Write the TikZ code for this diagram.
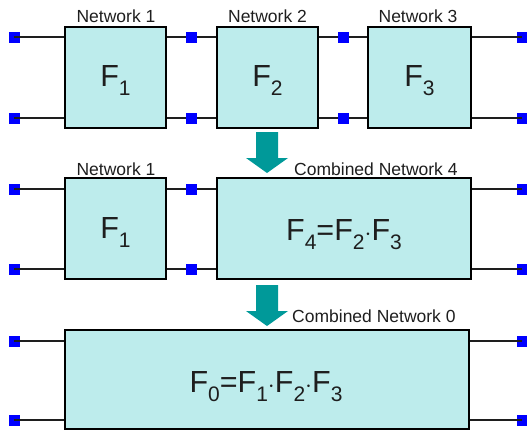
\documentclass[tikz,border=0pt]{standalone}
\usepackage{fontspec}
\setmainfont{Liberation Sans}
\definecolor{boxfill}{RGB}{189,236,236}
\definecolor{portblue}{RGB}{0,0,255}
\definecolor{arrowteal}{RGB}{0,153,153}
\definecolor{ink}{RGB}{30,30,30}
% subscript for the transfer-function labels
\newcommand{\tfsub}[1]{\raisebox{-9.5pt}{\fontsize{21}{21}\selectfont #1}}
\tikzset{
  netbox/.style={draw=black, fill=boxfill, line width=2.2pt, inner sep=0pt},
  port/.style={fill=portblue, minimum size=11pt, inner sep=0pt},
  wire/.style={line width=1.8pt, draw=ink},
  netlabel/.style={anchor=base, text=ink, font=\fontsize{17.5}{18}\selectfont, inner sep=0pt},
  tf/.style={anchor=base, text=ink, font=\fontsize{30.5}{30}\selectfont, inner sep=0pt},
  flowarrow/.style={fill=arrowteal}
}
\begin{document}
\begin{tikzpicture}[x=1pt,y=-1pt]
\useasboundingbox (0,0) rectangle (527,431);

% ---------- row 1: three separate networks ----------
\node[netbox, minimum width=101pt, minimum height=101pt] (n1) at (115.5,77.5) {};
\node[netbox, minimum width=101pt, minimum height=101pt] (n2) at (267.5,77.5) {};
\node[netbox, minimum width=103pt, minimum height=101pt] (n3) at (419.5,77.5) {};
\node[netlabel] (l1) at (116,22) {Network 1};
\node[netlabel] (l2) at (267.5,22) {Network 2};
\node[netlabel] (l3) at (418,22) {Network 3};
\node[tf] (f1) at (115.5,86) {F\tfsub{1}};
\node[tf] (f2) at (267.5,86) {F\tfsub{2}};
\node[tf] (f3) at (419.5,86) {F\tfsub{3}};

\foreach \r/\y in {a/37, b/118} {
  \node[port] (p1\r) at (14,\y) {};
  \node[port] (q1\r) at (191,\y) {};
  \node[port] (s1\r) at (343,\y) {};
  \node[port] (t1\r) at (522,\y) {};
  \draw[wire] (p1\r.center) -- (n1.west |- p1\r);
  \draw[wire] (n1.east |- q1\r) -- (n2.west |- q1\r);
  \draw[wire] (n2.east |- s1\r) -- (n3.west |- s1\r);
  \draw[wire] (n3.east |- t1\r) -- (t1\r.center);
}
% redraw the middle ports above the wires
\foreach \r/\y in {a/37, b/118} {
  \node[port] at (191,\y) {};
  \node[port] at (343,\y) {};
}

% ---------- arrow 1 ----------
\coordinate (a1) at (267,132);
\fill[flowarrow] (a1) ++(-11,0) -- ++(22,0) -- ++(0,26) -- ++(10,0)
  -- ++(-21,15) -- ++(-21,-15) -- ++(10,0) -- cycle;

% ---------- row 2: networks 2 and 3 combined ----------
\node[netbox, minimum width=101pt, minimum height=101pt] (m1) at (115.5,228.5) {};
\node[netbox, minimum width=254pt, minimum height=101pt] (m4) at (344,228.5) {};
\node[netlabel] (k1) at (116,175) {Network 1};
\node[netlabel, anchor=base west] (k4) at (294,175) {Combined Network 4};
\node[tf] (g1) at (115.5,238) {F\tfsub{1}};
\node[tf] (g4) at (344,240) {F\tfsub{4}=F\tfsub{2}$\cdot$F\tfsub{3}};

\foreach \r/\y in {a/189, b/269} {
  \node[port] (p2\r) at (14,\y) {};
  \node[port] (q2\r) at (191,\y) {};
  \node[port] (t2\r) at (522,\y) {};
  \draw[wire] (p2\r.center) -- (m1.west |- p2\r);
  \draw[wire] (m1.east |- q2\r) -- (m4.west |- q2\r);
  \draw[wire] (m4.east |- t2\r) -- (t2\r.center);
}
\foreach \y in {189, 269} { \node[port] at (191,\y) {}; }

% ---------- arrow 2 ----------
\coordinate (a2) at (267,285);
\fill[flowarrow] (a2) ++(-11,0) -- ++(22,0) -- ++(0,26) -- ++(10,0)
  -- ++(-21,15) -- ++(-21,-15) -- ++(10,0) -- cycle;

% ---------- row 3: all three combined ----------
\node[netbox, minimum width=404pt, minimum height=99pt] (b0) at (267,379.5) {};
\node[netlabel, anchor=base west] (k0) at (292,322) {Combined Network 0};
\node[tf] (g0) at (266,392) {F\tfsub{0}=F\tfsub{1}$\cdot$F\tfsub{2}$\cdot$F\tfsub{3}};

\foreach \r/\y in {a/341, b/420} {
  \node[port] (p3\r) at (14,\y) {};
  \node[port] (t3\r) at (522,\y) {};
  \draw[wire] (p3\r.center) -- (b0.west |- p3\r);
  \draw[wire] (b0.east |- t3\r) -- (t3\r.center);
}
\end{tikzpicture}
\end{document}
